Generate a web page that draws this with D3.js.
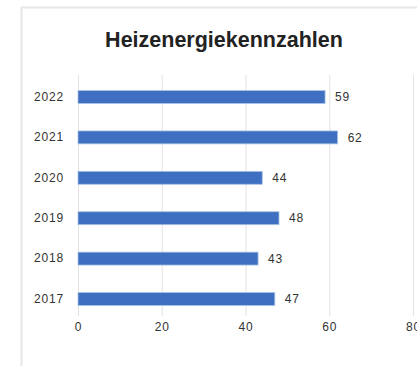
<!DOCTYPE html>
<html><head><meta charset="utf-8">
<script src="https://cdn.jsdelivr.net/npm/d3@7"></script>
<style>html,body{margin:0;padding:0;background:#fff;}svg{display:block;}</style>
</head><body>
<svg id="c" width="417" height="366"></svg>
<script>
const title = "Heizenergiekennzahlen";
const years = ["2022","2021","2020","2019","2018","2017"];
const values = [59, 62, 44, 48, 43, 47];
const xTicks = [0, 20, 40, 60, 80];

const svg = d3.select("#c");
// card frame
svg.append("rect").attr("x",21.5).attr("y",7.5).attr("width",420).attr("height",370)
  .attr("fill","#fff").attr("stroke","#e6e6e6").attr("stroke-width",2);

const x = d3.scaleLinear().domain([0,80]).range([78,413]);
const y = d3.scaleBand().domain(years).range([76.8,319.2]).paddingInner(0.68).paddingOuter(0.34);

svg.append("text").attr("x",224).attr("y",47).attr("text-anchor","middle")
  .attr("font-family","Liberation Sans, Arial, sans-serif").attr("font-weight","bold")
  .attr("font-size",21.5).attr("fill","#222").text(title);

// gridlines
svg.append("g").selectAll("line").data(xTicks).join("line")
  .attr("x1",d=>x(d)+0.5).attr("x2",d=>x(d)+0.5).attr("y1",75).attr("y2",316)
  .attr("stroke","#e3e3e3").attr("stroke-width",1);

const font = "Liberation Sans, Arial, sans-serif";
// x axis tick labels
const xAxis = d3.axisBottom(x).tickValues(xTicks).tickSize(0).tickPadding(0);
const gx = svg.append("g").attr("transform","translate(0,322)").call(xAxis);
gx.select(".domain").remove();
gx.selectAll("text").attr("font-family",font)
  .attr("font-size",12).attr("letter-spacing",0.8).attr("fill","#333");

// y axis labels
const yAxis = d3.axisLeft(y).tickSize(0).tickPadding(0);
const gy = svg.append("g").attr("transform","translate(64,0)").call(yAxis);
gy.select(".domain").remove();
gy.selectAll("text").attr("font-family",font)
  .attr("font-size",12).attr("letter-spacing",0.8).attr("fill","#333");

const data = years.map((yr,i)=>({yr, v: values[i]}));
svg.append("g").selectAll("rect").data(data).join("rect")
  .attr("x",x(0)).attr("y",d=>y(d.yr)).attr("width",d=>x(d.v)-x(0)).attr("height",y.bandwidth())
  .attr("fill","#3f6fc0").attr("stroke","#a9c3e6").attr("stroke-width",0.8);

svg.append("g").selectAll("text").data(data).join("text")
  .attr("x",d=>x(d.v)+10).attr("y",d=>y(d.yr)+y.bandwidth()/2).attr("dy","0.35em")
  .attr("font-family",font).attr("font-size",12).attr("letter-spacing",0.8).attr("fill","#333")
  .text(d=>d.v);
</script>
</body></html>
